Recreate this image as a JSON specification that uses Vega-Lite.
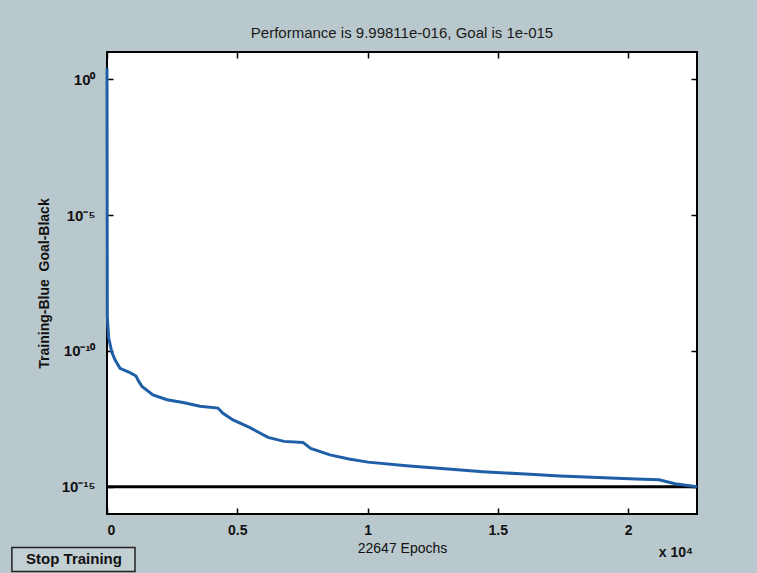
{
  "$schema": "https://vega.github.io/schema/vega-lite/v6.json",
  "width": 590,
  "height": 462,
  "autosize": "none",
  "padding": {"left": 107, "top": 52, "right": 60, "bottom": 59},
  "background": "#b9c8cc",
  "config": {
    "font": "Liberation Sans",
    "view": {"stroke": "black", "strokeWidth": 2, "fill": "white"},
    "axis": {
      "domain": false,
      "grid": false,
      "tickColor": "black",
      "tickSize": -6,
      "tickWidth": 1.5,
      "labelColor": "#111",
      "titleColor": "#111",
      "labelFont": "Liberation Sans",
      "titleFont": "Liberation Sans",
      "labelFontSize": 14,
      "labelFontWeight": "bold",
      "titleFontSize": 14,
      "titleFontWeight": "normal"
    }
  },
  "title": {
    "text": "Performance is 9.99811e-016, Goal is 1e-015",
    "fontSize": 15,
    "fontWeight": "normal",
    "color": "#1a1a1a",
    "font": "Liberation Sans",
    "offset": 10
  },
  "datasets": {
    "perf": [
      {"epoch": 0, "perf": 2.5},
      {"epoch": 12, "perf": 1.8e-9},
      {"epoch": 60, "perf": 3.2e-10},
      {"epoch": 180, "perf": 9.3e-11},
      {"epoch": 307, "perf": 4.7e-11},
      {"epoch": 499, "perf": 2.3e-11},
      {"epoch": 883, "perf": 1.6e-11},
      {"epoch": 1113, "perf": 1.2e-11},
      {"epoch": 1209, "perf": 7.9e-12},
      {"epoch": 1343, "perf": 4.9e-12},
      {"epoch": 1765, "perf": 2.4e-12},
      {"epoch": 2303, "perf": 1.6e-12},
      {"epoch": 2917, "perf": 1.26e-12},
      {"epoch": 3569, "perf": 9.3e-13},
      {"epoch": 4260, "perf": 7.9e-13},
      {"epoch": 4452, "perf": 5.1e-13},
      {"epoch": 4836, "perf": 2.9e-13},
      {"epoch": 5489, "perf": 1.5e-13},
      {"epoch": 6180, "perf": 6.6e-14},
      {"epoch": 6794, "perf": 4.7e-14},
      {"epoch": 7523, "perf": 4.3e-14},
      {"epoch": 7818, "perf": 2.6e-14},
      {"epoch": 8559, "perf": 1.5e-14},
      {"epoch": 9288, "perf": 1.05e-14},
      {"epoch": 10017, "perf": 8.1e-15},
      {"epoch": 11495, "perf": 6.0e-15},
      {"epoch": 12965, "perf": 4.6e-15},
      {"epoch": 14431, "perf": 3.6e-15},
      {"epoch": 15890, "perf": 3.0e-15},
      {"epoch": 17386, "perf": 2.5e-15},
      {"epoch": 18845, "perf": 2.2e-15},
      {"epoch": 20303, "perf": 1.95e-15},
      {"epoch": 21186, "perf": 1.82e-15},
      {"epoch": 21800, "perf": 1.3e-15},
      {"epoch": 22647, "perf": 9.99811e-16}
    ],
    "goal": [
      {"epoch": 0, "perf": 1e-15},
      {"epoch": 22647, "perf": 1e-15}
    ]
  },
  "layer": [
    {
      "data": {"name": "goal"},
      "mark": {"type": "line", "color": "black", "strokeWidth": 3},
      "encoding": {
        "x": {
          "field": "epoch", "type": "quantitative",
          "scale": {"domain": [0, 22647], "nice": false, "zero": false},
          "axis": {
            "orient": "bottom",
            "values": [0, 5000, 10000, 15000, 20000],
            "labelExpr": "datum.value / 10000",
            "labelPadding": 15,
            "title": "22647 Epochs",
            "titlePadding": 4
          }
        },
        "y": {
          "field": "perf", "type": "quantitative",
          "scale": {"type": "log", "domain": [1e-16, 10], "nice": false},
          "axis": {
            "orient": "left",
            "values": [1, 0.00001, 1e-10, 1e-15],
            "labelExpr": "round(log(datum.value)/LN10) == 0 ? '10⁰' : round(log(datum.value)/LN10) == -5 ? '10⁻⁵' : round(log(datum.value)/LN10) == -10 ? '10⁻¹⁰' : '10⁻¹⁵'",
            "labelPadding": 18,
            "labelFontSize": 15,
            "title": "Training-Blue\u00a0\u00a0Goal-Black",
            "titleFontWeight": "bold",
            "titlePadding": 10
          }
        }
      }
    },
    {
      "data": {"name": "perf"},
      "mark": {"type": "line", "color": "#1f5fa8", "strokeWidth": 3},
      "encoding": {
        "x": {
          "field": "epoch", "type": "quantitative",
          "scale": {"domain": [0, 22647], "nice": false, "zero": false},
          "axis": {"orient": "top", "values": [0, 5000, 10000, 15000, 20000], "labels": false, "title": null}
        },
        "y": {
          "field": "perf", "type": "quantitative",
          "scale": {"type": "log", "domain": [1e-16, 10], "nice": false},
          "axis": {"orient": "right", "values": [1, 0.00001, 1e-10, 1e-15], "labels": false, "title": null}
        }
      }
    },
    {
      "data": {"values": [{"label": "x 10⁴"}]},
      "mark": {"type": "text", "align": "right", "baseline": "middle", "fontSize": 14, "fontWeight": "bold", "color": "#111", "dx": -4, "dy": 39},
      "encoding": {
        "text": {"field": "label"},
        "x": {"datum": 22647, "type": "quantitative", "scale": {"domain": [0, 22647], "nice": false, "zero": false}, "axis": null},
        "y": {"datum": 1e-16, "type": "quantitative", "scale": {"type": "log", "domain": [1e-16, 10], "nice": false}, "axis": null}
      }
    },
    {
      "data": {"values": [{"label": "Stop Training"}]},
      "mark": {"type": "rect", "fill": "#c2cfd3", "stroke": "#222", "strokeWidth": 1.5},
      "encoding": {
        "x": {"datum": -3650, "type": "quantitative", "scale": {"domain": [0, 22647], "nice": false, "zero": false}, "axis": null},
        "x2": {"datum": 1075},
        "y": {"datum": 5.8e-18, "type": "quantitative", "scale": {"type": "log", "domain": [1e-16, 10], "nice": false}, "axis": null},
        "y2": {"datum": 7.6e-19}
      }
    },
    {
      "data": {"values": [{"label": "Stop Training"}]},
      "mark": {"type": "text", "align": "center", "baseline": "middle", "fontSize": 15, "fontWeight": "bold", "color": "#111", "dx": -33, "dy": 45},
      "encoding": {
        "text": {"field": "label"},
        "x": {"datum": 0, "type": "quantitative", "scale": {"domain": [0, 22647], "nice": false, "zero": false}, "axis": null},
        "y": {"datum": 1e-16, "type": "quantitative", "scale": {"type": "log", "domain": [1e-16, 10], "nice": false}, "axis": null}
      }
    }
  ],
  "resolve": {"axis": {"x": "independent", "y": "independent"}}
}
